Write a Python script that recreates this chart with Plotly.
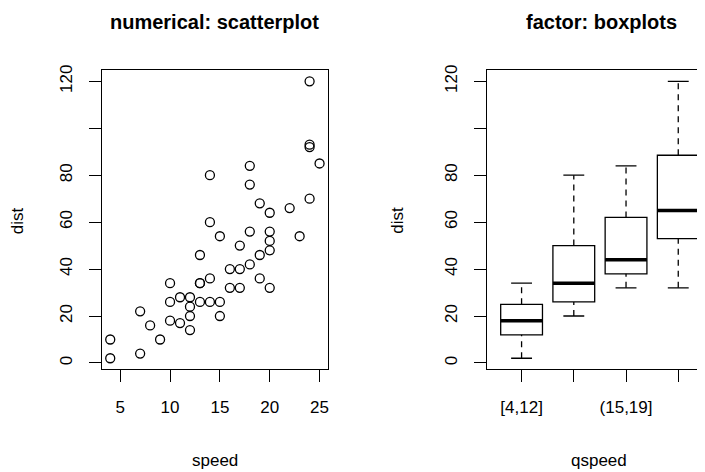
import numpy as np
import plotly.graph_objects as go

# cars data (R datasets)
speed = [4, 4, 7, 7, 8, 9, 10, 10, 10, 11, 11, 12, 12, 12, 12, 13, 13, 13, 13, 14,
         14, 14, 14, 15, 15, 15, 16, 16, 17, 17, 17, 18, 18, 18, 18, 19, 19, 19, 20, 20,
         20, 20, 20, 22, 23, 24, 24, 24, 24, 25]
dist = [2, 10, 4, 22, 16, 10, 18, 26, 34, 17, 28, 14, 20, 24, 28, 26, 34, 34, 46, 26,
        36, 60, 80, 20, 26, 54, 32, 40, 32, 40, 50, 42, 56, 76, 84, 36, 46, 68, 32, 48,
        52, 56, 64, 66, 54, 70, 92, 93, 120, 85]

qspeed_breaks = [4, 12, 15, 19, 25]
qspeed_levels = ["[4,12]", "(12,15]", "(15,19]", "(19,25]"]
qspeed_shown = ["[4,12]", "", "(15,19]", ""]   # R drops labels that overlap

y_ticks = [0, 20, 40, 60, 80, 100, 120]
y_ticktext = ["0", "20", "40", "60", "80", "", "120"]
x_ticks = [5, 10, 15, 20, 25]

FONT = "Liberation Sans, Arial, Helvetica, sans-serif"
# the page body has an 8px margin, so the figure is drawn 8px in from the corner
OFF = 8
W, H = 705 - OFF, 472 - OFF


def px(x):
    return (x - OFF) / W


def py(y):
    return (H - (y - OFF)) / H


def fivenum(v):
    x = np.sort(np.asarray(v, dtype=float))
    n = len(x)
    n4 = np.floor((n + 3) / 2) / 2
    d = np.array([1, n4, (n + 1) / 2, n + 1 - n4, n]) - 1
    return 0.5 * (x[np.floor(d).astype(int)] + x[np.ceil(d).astype(int)])


sp = np.array(speed)
ds = np.array(dist)
grp = np.digitize(sp, qspeed_breaks[1:-1], right=True)  # (a,b] with lowest included

fig = go.Figure()

# left: scatterplot
fig.add_trace(go.Scatter(x=speed, y=dist, mode="markers",
                         marker=dict(symbol="circle-open", size=9, color="black",
                                     line=dict(width=1.3, color="black")),
                         xaxis="x", yaxis="y", showlegend=False))

# right: boxplots
for i, lev in enumerate(qspeed_levels):
    vals = ds[grp == i]
    s = fivenum(vals)
    q1, med, q3 = s[1], s[2], s[3]
    iqr = q3 - q1
    lo = vals[vals >= q1 - 1.5 * iqr].min()
    hi = vals[vals <= q3 + 1.5 * iqr].max()
    pos = i + 1
    fig.add_trace(go.Box(x=[pos], q1=[q1], median=[med], q3=[q3],
                         lowerfence=[q1], upperfence=[q3], width=0.8,
                         whiskerwidth=0, fillcolor="white",
                         line=dict(color="black", width=1.3),
                         xaxis="x2", yaxis="y2", showlegend=False, hoverinfo="skip"))
    # dashed whiskers
    fig.add_trace(go.Scatter(x=[pos, pos, None, pos, pos], y=[lo, q1, None, q3, hi],
                             mode="lines", line=dict(color="black", width=1.3, dash="6px,5px"),
                             xaxis="x2", yaxis="y2", showlegend=False))
    # staples
    fig.add_trace(go.Scatter(x=[pos - 0.2, pos + 0.2, None, pos - 0.2, pos + 0.2],
                             y=[lo, lo, None, hi, hi],
                             mode="lines", line=dict(color="black", width=1.3),
                             xaxis="x2", yaxis="y2", showlegend=False))
    # thick median
    fig.add_trace(go.Scatter(x=[pos - 0.4, pos + 0.4], y=[med, med],
                             mode="lines", line=dict(color="black", width=3.5),
                             xaxis="x2", yaxis="y2", showlegend=False))

ax = dict(showgrid=False, zeroline=False, showline=True, linecolor="black", linewidth=1.2,
          ticks="outside", ticklen=12, tickwidth=1.2, tickcolor="black",
          tickfont=dict(family=FONT, size=17, color="black"))

y_dom = [py(368), py(65)]
fig.update_layout(
    width=W, height=H,
    margin=dict(l=0, r=0, t=0, b=0),
    paper_bgcolor="white", plot_bgcolor="white",
    xaxis=dict(ax, domain=[px(102), px(328.4)], range=[3.16, 25.84],
               tickvals=x_ticks, mirror=True, ticklabelstandoff=10),
    yaxis=dict(ax, domain=y_dom, range=[-2.72, 124.72], tickvals=y_ticks,
               ticktext=y_ticktext, tickangle=-90, mirror=True, ticklabelstandoff=10),
    xaxis2=dict(ax, domain=[px(487.8), 1.0], range=[0.34, 0.34 + (705 - 487.8) / 52.3],
                tickvals=[1, 2, 3, 4], ticktext=qspeed_shown, mirror=True,
                ticklabelstandoff=10, anchor="y2"),
    yaxis2=dict(ax, domain=y_dom, range=[-2.72, 124.72], tickvals=y_ticks,
                ticktext=y_ticktext, tickangle=-90, mirror=False, ticklabelstandoff=10,
                anchor="x2"),
)

title_font = dict(family=FONT, size=20, color="black")
lab_font = dict(family=FONT, size=17, color="black")
ann = [
    dict(text="<b>numerical: scatterplot</b>", x=px(215), y=py(16), font=title_font),
    dict(text="<b>factor: boxplots</b>", x=px(602), y=py(16), font=title_font),
    dict(text="speed", x=px(215), y=py(460), font=lab_font),
    dict(text="qspeed", x=px(600), y=py(460), font=lab_font),
    dict(text="dist", x=px(17), y=py(217), font=lab_font, textangle=-90),
    dict(text="dist", x=px(398), y=py(217), font=lab_font, textangle=-90),
]
for a in ann:
    fig.add_annotation(xref="paper", yref="paper", showarrow=False,
                       xanchor="center", yanchor="middle", **a)

fig.write_html("out.html")
